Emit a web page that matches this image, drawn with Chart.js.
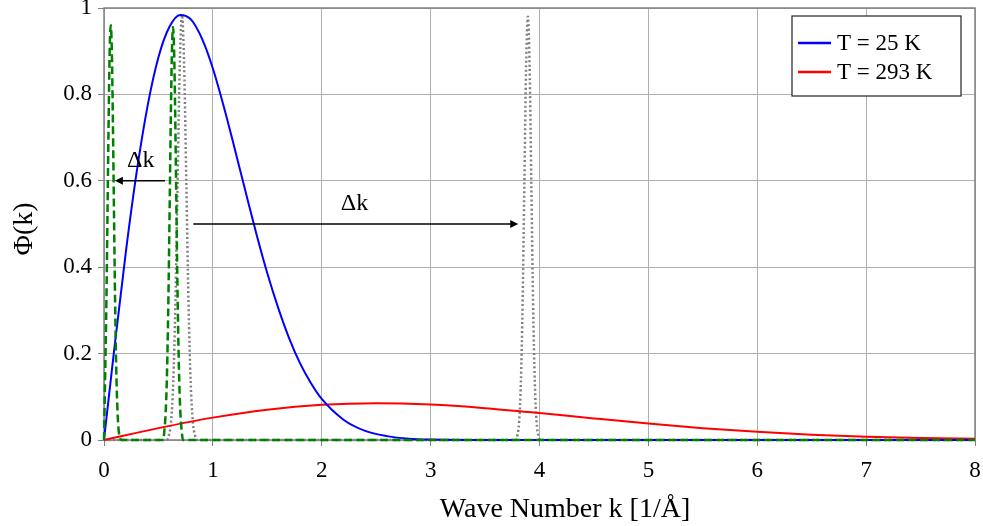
<!DOCTYPE html>
<html>
<head>
<meta charset="utf-8">
<script src="https://cdn.jsdelivr.net/npm/chart.js@4.4.1/dist/chart.umd.min.js"></script>
<style>
  html, body { margin: 0; padding: 0; background: #fff; }
  #wrap { width: 983px; height: 526px; }
</style>
</head>
<body>
<div id="wrap"><canvas id="phiChart" width="983" height="526"></canvas></div>
<script>
// Dati
const xTicks = [0, 1, 2, 3, 4, 5, 6, 7, 8];
const yTicks = [0, 0.2, 0.4, 0.6, 0.8, 1];

// T = 25 K
const kBlue = [0, 0.1, 0.2, 0.3, 0.4, 0.5, 0.6, 0.7, 0.8, 0.9, 1.0, 1.1, 1.2, 1.3, 1.4, 1.5, 1.6, 1.7, 1.8, 1.9, 2.0, 2.2, 2.4, 2.6, 2.8, 3.0, 3.5, 8];
const phiBlue = [0, 0.223, 0.434, 0.62, 0.773, 0.886, 0.956, 0.984, 0.973, 0.929, 0.86, 0.772, 0.675, 0.575, 0.477, 0.386, 0.306, 0.236, 0.178, 0.132, 0.095, 0.047, 0.021, 0.009, 0.003, 0.001, 0, 0];

// T = 293 K
const kRed = [0, 0.5, 1, 1.5, 2, 2.5, 3, 3.5, 4, 4.5, 5, 5.5, 6, 6.5, 7, 7.5, 8];
const phiRed = [0, 0.0275, 0.0518, 0.0702, 0.0814, 0.085, 0.0819, 0.0736, 0.0623, 0.0499, 0.038, 0.0274, 0.019, 0.0124, 0.0078, 0.0047, 0.0027];

// pacchetti stretti (tratteggio verde)
const kGreen = [0, 0.012, 0.022, 0.032, 0.042, 0.052, 0.062, 0.072, 0.082, 0.092, 0.102, 0.112, 0.122, 0.132, 0.142, 0.16,
  0.544, 0.554, 0.564, 0.574, 0.584, 0.594, 0.604, 0.614, 0.624, 0.634, 0.644, 0.654, 0.664, 0.674, 0.684, 0.694, 0.704, 0.714, 0.724, 8];
const phiGreen = [0, 0.17, 0.32, 0.52, 0.73, 0.9, 0.96, 0.9, 0.73, 0.52, 0.32, 0.17, 0.08, 0.03, 0.01, 0,
  0, 0.021, 0.052, 0.112, 0.216, 0.369, 0.56, 0.753, 0.9, 0.956, 0.9, 0.753, 0.56, 0.369, 0.216, 0.112, 0.052, 0.021, 0, 0];

// pacchetti stretti (punteggiato grigio)
const kGray = [0, 0.576, 0.596, 0.616, 0.636, 0.656, 0.676, 0.696, 0.716, 0.736, 0.756, 0.776, 0.796, 0.816, 0.836, 0.856,
  3.781, 3.797, 3.813, 3.829, 3.845, 3.861, 3.877, 3.893, 3.909, 3.925, 3.941, 3.957, 3.973, 3.989, 4.005, 8];
const phiGray = [0, 0, 0.011, 0.043, 0.133, 0.32, 0.597, 0.868, 0.984, 0.868, 0.597, 0.32, 0.133, 0.043, 0.011, 0,
  0, 0.011, 0.043, 0.133, 0.318, 0.594, 0.865, 0.98, 0.865, 0.594, 0.318, 0.133, 0.043, 0.011, 0, 0];

// frecce Δk
const arrowFromK = [0.56, 0.82];
const arrowToK = [0.1, 3.805];
const arrowPhi = [0.6, 0.5];
const arrowLabelK = [0.337, 2.3];
const arrowLabelPhi = [0.633, 0.532];
const arrowLabel = ["Δk", "Δk"];

const FONT = "'Liberation Serif', 'DejaVu Serif', serif";

const toPoints = (ks, vals) => ks.map((k, i) => ({ x: k, y: vals[i] }));

// Disegna cornice, frecce, legenda e titoli degli assi
const overlayPlugin = {
  id: "overlay",
  beforeDatasetsDraw(chart) {
    const { ctx, chartArea: a } = chart;
    ctx.save();
    ctx.strokeStyle = "#808080";
    ctx.lineWidth = 1.5;
    ctx.strokeRect(a.left, a.top, a.right - a.left, a.bottom - a.top);
    ctx.restore();
  },
  afterDatasetsDraw(chart) {
    const { ctx, chartArea: a, scales } = chart;
    const x = scales.x;
    const y = scales.y;
    ctx.save();

    // frecce
    ctx.strokeStyle = "#000";
    ctx.fillStyle = "#000";
    ctx.lineWidth = 1.5;
    arrowFromK.forEach((k0, i) => {
      const x0 = x.getPixelForValue(k0);
      const x1 = x.getPixelForValue(arrowToK[i]);
      const yy = y.getPixelForValue(arrowPhi[i]);
      const dir = Math.sign(x1 - x0);
      ctx.beginPath();
      ctx.moveTo(x0, yy);
      ctx.lineTo(x1 - dir * 6, yy);
      ctx.stroke();
      ctx.beginPath();
      ctx.moveTo(x1, yy);
      ctx.lineTo(x1 - dir * 8, yy - 4);
      ctx.lineTo(x1 - dir * 8, yy + 4);
      ctx.closePath();
      ctx.fill();

      ctx.font = `24px ${FONT}`;
      ctx.textAlign = "center";
      ctx.textBaseline = "alphabetic";
      ctx.fillText(arrowLabel[i], x.getPixelForValue(arrowLabelK[i]), y.getPixelForValue(arrowLabelPhi[i]));
    });

    // legenda con bordo
    const boxL = a.right - 183;
    const boxT = a.top + 8;
    const boxW = 169;
    const boxH = 80;
    ctx.fillStyle = "#fff";
    ctx.fillRect(boxL, boxT, boxW, boxH);
    ctx.strokeStyle = "#222";
    ctx.lineWidth = 1.2;
    ctx.strokeRect(boxL, boxT, boxW, boxH);
    const entries = chart.data.datasets.filter((d) => d.inLegend);
    entries.forEach((d, i) => {
      const ly = boxT + 27 + i * 29;
      ctx.strokeStyle = d.borderColor;
      ctx.lineWidth = 2.5;
      ctx.beginPath();
      ctx.moveTo(boxL + 6, ly);
      ctx.lineTo(boxL + 39, ly);
      ctx.stroke();
      ctx.fillStyle = "#000";
      ctx.font = `23px ${FONT}`;
      ctx.textAlign = "left";
      ctx.textBaseline = "middle";
      ctx.fillText(d.label, boxL + 45, ly + 1);
    });

    // titoli degli assi
    ctx.fillStyle = "#000";
    ctx.font = `28px ${FONT}`;
    ctx.textAlign = "center";
    ctx.textBaseline = "alphabetic";
    ctx.fillText("Wave Number k [1/Å]", 565, 517);

    ctx.translate(25, 229);
    ctx.rotate(-Math.PI / 2);
    ctx.textBaseline = "middle";
    ctx.fillText("Φ(k)", 0, 0);
    ctx.restore();
  },
};

const lineBase = {
  pointRadius: 0,
  pointHoverRadius: 0,
  fill: false,
  clip: 5,
  cubicInterpolationMode: "monotone",
};

const initializeChart = () => {
  const ctx = document.getElementById("phiChart").getContext("2d");
  new Chart(ctx, {
    type: "line",
    data: {
      datasets: [
        {
          ...lineBase,
          label: "T = 25 K",
          inLegend: true,
          data: toPoints(kBlue, phiBlue),
          borderColor: "#0000ff",
          borderWidth: 2,
          order: 1,
        },
        {
          ...lineBase,
          label: "T = 293 K",
          inLegend: true,
          data: toPoints(kRed, phiRed),
          borderColor: "#ff0000",
          borderWidth: 2,
          order: 2,
        },
        {
          ...lineBase,
          label: "narrow",
          data: toPoints(kGreen, phiGreen),
          borderColor: "#008000",
          borderWidth: 2.5,
          borderDash: [8, 4],
          order: 0,
        },
        {
          ...lineBase,
          label: "wide",
          data: toPoints(kGray, phiGray),
          borderColor: "#808080",
          borderWidth: 2.5,
          borderDash: [2, 2.5],
          order: 3,
        },
      ],
    },
    options: {
      responsive: false,
      animation: false,
      layout: { padding: { top: 8, right: 8, left: 0, bottom: 0 } },
      plugins: {
        legend: { display: false },
        tooltip: { enabled: false },
      },
      scales: {
        x: {
          type: "linear",
          min: 0,
          max: 8,
          afterBuildTicks: (s) => { s.ticks = xTicks.map((v) => ({ value: v })); },
          afterFit: (s) => {
            s.height = 86;
            s.paddingLeft = 0;
            s.paddingRight = 0;
          },
          border: { display: false },
          grid: { color: "#b0b0b0", lineWidth: 1, tickLength: 6, tickColor: "#808080" },
          ticks: {
            color: "#000",
            padding: 11,
            maxRotation: 0,
            font: { family: FONT, size: 23 },
            callback: (v) => String(v),
          },
        },
        y: {
          type: "linear",
          min: 0,
          max: 1,
          afterBuildTicks: (s) => { s.ticks = yTicks.map((v) => ({ value: v })); },
          afterFit: (s) => {
            s.width = 104;
            s.paddingTop = 0;
            s.paddingBottom = 0;
          },
          border: { display: false },
          grid: { color: "#b0b0b0", lineWidth: 1, tickLength: 6, tickColor: "#808080" },
          ticks: {
            color: "#000",
            padding: 6,
            font: { family: FONT, size: 23 },
            callback: (v) => String(+v.toFixed(1)),
          },
        },
      },
    },
    plugins: [overlayPlugin],
  });
};

document.addEventListener("DOMContentLoaded", initializeChart);
</script>
</body>
</html>
